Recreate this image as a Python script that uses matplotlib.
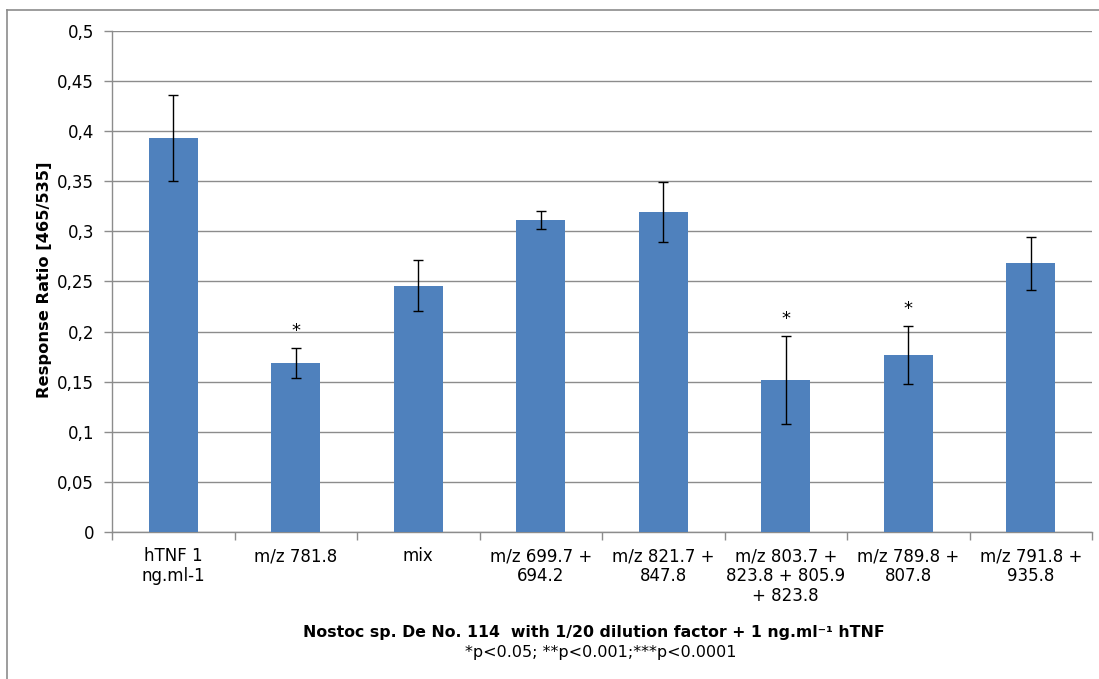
import matplotlib
matplotlib.use("Agg")
import matplotlib.pyplot as plt
from matplotlib.lines import Line2D
from matplotlib.ticker import FuncFormatter, MultipleLocator
import numpy as np

plt.rcParams["font.family"] = ["DejaVu Sans"]

# response ratio per treatment, with error and significance marks
labels = [
    "hTNF 1\nng.ml-1",
    "m/z 781.8",
    "mix",
    "m/z 699.7 +\n694.2",
    "m/z 821.7 +\n847.8",
    "m/z 803.7 +\n823.8 + 805.9\n+ 823.8",
    "m/z 789.8 +\n807.8",
    "m/z 791.8 +\n935.8",
]
means = [0.393, 0.169, 0.246, 0.311, 0.319, 0.152, 0.177, 0.268]
errors = [0.043, 0.015, 0.025, 0.009, 0.030, 0.044, 0.029, 0.026]
stars = ["", "*", "", "", "", "*", "*", ""]

bar_color = "#4F81BD"
grid_color = "#8C8C8C"
W, H = 1099, 679

fig = plt.figure(figsize=(W / 100, H / 100), dpi=100)
ax = fig.add_axes([112 / W, 1 - 532 / H, 980 / W, 501 / H])

x = np.arange(len(means))
ax.bar(x, means, width=0.4, color=bar_color, zorder=3)
ax.errorbar(x, means, yerr=errors, fmt="none", ecolor="black",
            elinewidth=1, capsize=3.3, capthick=1, zorder=4)

for xi, m, e, s in zip(x, means, errors, stars):
    if s:
        ax.text(xi, m + e + 0.008, s, ha="center", va="bottom", fontsize=13)

ax.set_xlim(-0.5, len(means) - 0.5)
ax.set_ylim(0, 0.5)
ax.yaxis.set_major_locator(MultipleLocator(0.05))
ax.yaxis.set_major_formatter(
    FuncFormatter(lambda v, _: f"{v:.2f}".rstrip("0").rstrip(".").replace(".", ",")))
ax.grid(axis="y", color=grid_color, linewidth=1, zorder=0)

ax.set_xticks(x)
ax.set_xticklabels(labels, fontsize=12, linespacing=1.15, va="top")
ax.set_xticks(np.arange(-0.5, len(means)), minor=True)
ax.tick_params(axis="x", which="major", length=0, pad=11)
ax.tick_params(axis="x", which="minor", length=6, color=grid_color, width=1)
ax.tick_params(axis="y", length=6, color=grid_color, width=1, labelsize=12, pad=7)

for side in ("top", "right"):
    ax.spines[side].set_visible(False)
for side in ("left", "bottom"):
    ax.spines[side].set_color(grid_color)
    ax.spines[side].set_linewidth(1)

fig.text(44.5 / W, 1 - 280 / H, "Response Ratio [465/535]", rotation=90,
         ha="center", va="center", fontsize=11.7, fontweight="bold")

fig.text(594 / W, 1 - 633 / H,
         "Nostoc sp. De No. 114  with 1/20 dilution factor + 1 ng.ml\u207b\u00b9 hTNF",
         ha="center", va="center", fontsize=11.3, fontweight="bold")
fig.text(601 / W, 1 - 653 / H, "*p<0.05; **p<0.001;***p<0.0001",
         ha="center", va="center", fontsize=11.5)

# outer chart frame
fig.add_artist(Line2D([7 / W, 1.0], [1 - 9.5 / H] * 2, transform=fig.transFigure,
                      color=grid_color, linewidth=1.2))
fig.add_artist(Line2D([7 / W] * 2, [0.0, 1 - 9.5 / H], transform=fig.transFigure,
                      color=grid_color, linewidth=1.2))

fig.savefig("out.png", dpi=100)
